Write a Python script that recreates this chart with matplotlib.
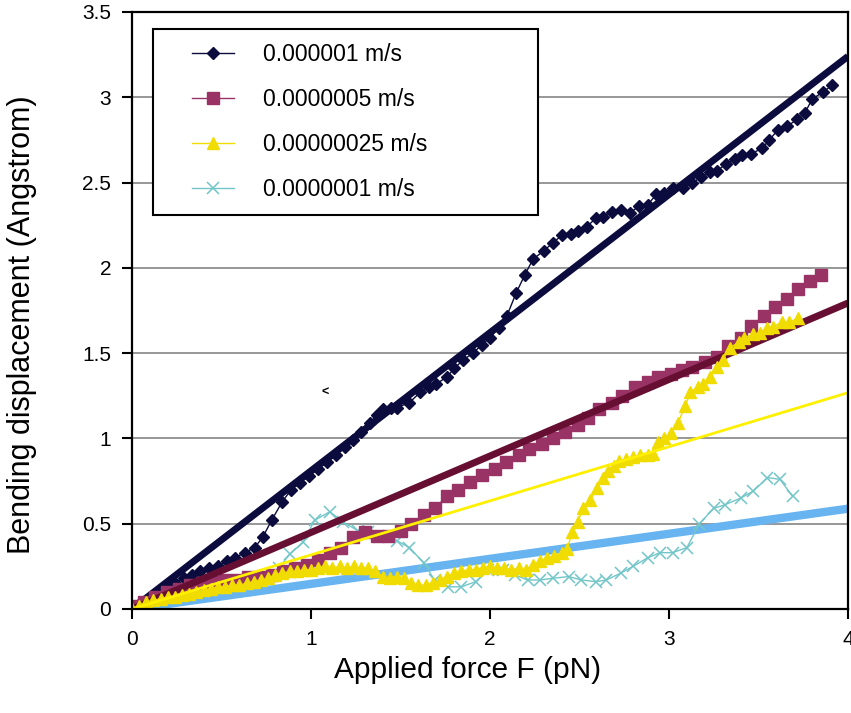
import matplotlib
matplotlib.use("Agg")
import matplotlib.pyplot as plt
import numpy as np
from matplotlib.lines import Line2D
from matplotlib.legend_handler import HandlerLine2D

plt.rcParams["font.family"] = ["Liberation Sans", "DejaVu Sans"]

# series (x in pN, y in Angstrom)
v1_x = [0.00, 0.05, 0.10, 0.15, 0.19, 0.24, 0.29, 0.335, 0.38, 0.43, 0.48, 0.53,
        0.575, 0.63, 0.685, 0.73, 0.78, 0.84, 0.89, 0.94, 0.99, 1.04, 1.09, 1.14,
        1.19, 1.235, 1.28, 1.33, 1.37, 1.40, 1.445, 1.48, 1.55, 1.61, 1.66, 1.70,
        1.76, 1.80, 1.85, 1.905, 1.955, 2.00, 2.05, 2.095, 2.145, 2.195, 2.24, 2.30,
        2.35, 2.40, 2.45, 2.49, 2.54, 2.59, 2.63, 2.68, 2.73, 2.78, 2.83, 2.88,
        2.93, 2.97, 3.02, 3.08, 3.13, 3.18, 3.23, 3.27, 3.32, 3.37, 3.41, 3.46,
        3.52, 3.56, 3.61, 3.66, 3.715, 3.76, 3.80, 3.86, 3.91]
v1_y = [0.01, 0.04, 0.07, 0.10, 0.13, 0.15, 0.18, 0.20, 0.22, 0.24, 0.25, 0.28,
        0.30, 0.33, 0.36, 0.42, 0.52, 0.63, 0.70, 0.74, 0.78, 0.82, 0.86, 0.90,
        0.95, 0.99, 1.04, 1.09, 1.14, 1.17, 1.18, 1.18, 1.21, 1.27, 1.30, 1.32,
        1.36, 1.41, 1.46, 1.50, 1.55, 1.59, 1.65, 1.72, 1.85, 1.96, 2.05, 2.10,
        2.145, 2.19, 2.20, 2.215, 2.24, 2.29, 2.30, 2.33, 2.34, 2.32, 2.36, 2.37,
        2.43, 2.44, 2.47, 2.47, 2.50, 2.53, 2.56, 2.57, 2.61, 2.64, 2.66, 2.67,
        2.70, 2.75, 2.81, 2.83, 2.87, 2.91, 2.99, 3.03, 3.07]

v2_x = [0.00, 0.065, 0.13, 0.195, 0.26, 0.325, 0.39, 0.455, 0.52, 0.585, 0.65,
        0.715, 0.78, 0.845, 0.91, 0.975, 1.04, 1.105, 1.17, 1.235, 1.30, 1.37,
        1.43, 1.50, 1.56, 1.63, 1.69, 1.76, 1.82, 1.89, 1.955, 2.03, 2.09, 2.16,
        2.22, 2.29, 2.35, 2.42, 2.49, 2.55, 2.61, 2.68, 2.74, 2.81, 2.88, 2.94,
        3.01, 3.07, 3.13, 3.20, 3.27, 3.33, 3.40, 3.46, 3.53, 3.59, 3.66, 3.72,
        3.79, 3.85]
v2_y = [0.02, 0.04, 0.07, 0.10, 0.12, 0.14, 0.15, 0.16, 0.17, 0.17, 0.19,
        0.19, 0.20, 0.22, 0.24, 0.26, 0.29, 0.33, 0.36, 0.42, 0.45, 0.43,
        0.43, 0.46, 0.50, 0.55, 0.59, 0.66, 0.70, 0.745, 0.785, 0.82, 0.86, 0.90,
        0.94, 0.97, 1.00, 1.04, 1.08, 1.12, 1.17, 1.21, 1.25, 1.30, 1.33, 1.36,
        1.38, 1.40, 1.42, 1.45, 1.48, 1.54, 1.59, 1.66, 1.72, 1.77, 1.82, 1.875,
        1.92, 1.96]

v3_x = [0.00, 0.04, 0.08, 0.12, 0.16, 0.20, 0.24, 0.28, 0.32, 0.36, 0.40, 0.44,
        0.48, 0.52, 0.56, 0.60, 0.64, 0.68, 0.72, 0.76, 0.80, 0.84, 0.88, 0.92,
        0.96, 1.00, 1.04, 1.08, 1.12, 1.16, 1.20, 1.24, 1.28, 1.32, 1.36, 1.40,
        1.44, 1.48, 1.52, 1.56, 1.60, 1.64, 1.68, 1.72, 1.76, 1.80, 1.84, 1.88,
        1.92, 1.96, 2.00, 2.04, 2.08, 2.12, 2.16, 2.20, 2.24, 2.28, 2.32, 2.36,
        2.40, 2.43, 2.46, 2.49, 2.52, 2.56, 2.60, 2.63, 2.66, 2.69, 2.72, 2.76,
        2.80, 2.84, 2.88, 2.91, 2.94, 2.97, 3.01, 3.05, 3.09, 3.12, 3.16, 3.19,
        3.23, 3.27, 3.30, 3.34, 3.39, 3.42, 3.47, 3.51, 3.55, 3.58, 3.63, 3.67,
        3.72]
v3_y = [0.00, 0.02, 0.04, 0.05, 0.06, 0.07, 0.07, 0.08, 0.09, 0.10, 0.11, 0.12,
        0.13, 0.13, 0.14, 0.14, 0.15, 0.16, 0.17, 0.18, 0.20, 0.21, 0.22, 0.22,
        0.23, 0.23, 0.24, 0.25, 0.24, 0.25, 0.24, 0.25, 0.24, 0.24, 0.22, 0.19,
        0.18, 0.19, 0.18, 0.15, 0.14, 0.14, 0.15, 0.17, 0.19, 0.21, 0.22, 0.23,
        0.23, 0.24, 0.25, 0.24, 0.24, 0.23, 0.24, 0.23, 0.26, 0.28, 0.30, 0.31,
        0.33, 0.35, 0.45, 0.51, 0.59, 0.64, 0.71, 0.77, 0.81, 0.84, 0.87, 0.88,
        0.89, 0.90, 0.90, 0.91, 0.98, 1.00, 1.03, 1.09, 1.19, 1.27, 1.30, 1.32,
        1.36, 1.42, 1.46, 1.53, 1.565, 1.59, 1.61, 1.62, 1.65, 1.655, 1.68, 1.68,
        1.705]

v4_x = [0.00, 0.08, 0.15, 0.23, 0.30, 0.38, 0.45, 0.53, 0.60, 0.68, 0.75, 0.82,
        0.88, 0.955, 1.02, 1.105, 1.18, 1.26, 1.32, 1.385, 1.48, 1.55, 1.63, 1.69,
        1.765, 1.84, 1.92, 1.99, 2.07, 2.14, 2.21, 2.28, 2.35, 2.44, 2.51, 2.59,
        2.65, 2.73, 2.80, 2.88, 2.95, 3.02, 3.10, 3.17, 3.25, 3.31, 3.40, 3.47,
        3.55, 3.62, 3.69]
v4_y = [0.00, 0.03, 0.05, 0.07, 0.08, 0.10, 0.12, 0.13, 0.14, 0.16, 0.19, 0.24,
        0.32, 0.39, 0.52, 0.57, 0.51, 0.46, 0.45, 0.42, 0.40, 0.36, 0.27, 0.17,
        0.13, 0.13, 0.16, 0.23, 0.23, 0.20, 0.17, 0.17, 0.18, 0.19, 0.17, 0.16,
        0.17, 0.21, 0.25, 0.30, 0.33, 0.33, 0.36, 0.50, 0.59, 0.61, 0.65, 0.69,
        0.77, 0.76, 0.66]

labels = ["0.000001 m/s", "0.0000005 m/s", "0.00000025 m/s", "0.0000001 m/s"]
# slopes of the linear fits (Angstrom per pN)
fit_slopes = [0.81, 0.4485, 0.317, 0.147]
fit_x = np.array([0.0, 4.0])

navy = "#0b0b3d"
plum = "#993366"
maroon = "#670f33"
gold = "#f0dc00"
yellow = "#fff000"
teal = "#72c6c8"
sky = "#68b4f0"

fig = plt.figure(figsize=(8.51, 7.13), dpi=100)
ax = fig.add_axes([0.1551, 0.1459, 0.8414, 0.8373])

ax.plot(fit_x, fit_slopes[3] * fit_x, color=sky, lw=6, solid_capstyle="butt", zorder=1.5)

ax.plot(v1_x, v1_y, color=navy, lw=1, marker="D", ms=6.3, mec=navy, mfc=navy,
        label=labels[0], zorder=2.0)
ax.plot(fit_x, fit_slopes[0] * fit_x, color=navy, lw=5, solid_capstyle="butt", zorder=2.1)

ax.plot(v4_x, v4_y, color=teal, lw=1, marker="x", ms=8, mew=1.1,
        label=labels[3], zorder=2.15)

ax.plot(v2_x, v2_y, color=plum, lw=1, marker="s", ms=8.5, mec=plum, mfc=plum,
        label=labels[1], zorder=2.2)
ax.plot(fit_x, fit_slopes[1] * fit_x, color=maroon, lw=5, solid_capstyle="butt", zorder=2.3)

ax.plot(v3_x, v3_y, color=gold, lw=1, marker="^", ms=8, mec=gold, mfc=gold,
        label=labels[2], zorder=2.4)
ax.plot(fit_x, fit_slopes[2] * fit_x, color=yellow, lw=2, solid_capstyle="butt", zorder=2.5)

# stray mark from the original figure
ax.text(1.078, 1.27, "<", fontsize=9, fontweight="bold", ha="center", va="center")

ax.set_xlim(0, 4)
ax.set_ylim(0, 3.5)
ax.set_xticks([0, 1, 2, 3, 4])
ax.set_yticks(np.arange(0, 3.51, 0.5))
ax.yaxis.set_major_formatter(matplotlib.ticker.FormatStrFormatter("%g"))
ax.yaxis.grid(True, color="#858585", lw=1.2)
ax.set_axisbelow(True)
ax.tick_params(direction="out", length=7, width=1.5, labelsize=15, pad=8)
for s in ax.spines.values():
    s.set_linewidth(1.6)

ax.set_xlabel("Applied force F (pN)", fontsize=21.5)
ax.xaxis.set_label_coords(0.469, -0.079)
ax.set_ylabel("Bending displacement (Angstrom)", fontsize=22)
ax.yaxis.set_label_coords(-0.132, 0.476)

hd = {lab: hh for hh, lab in zip(*ax.get_legend_handles_labels())}
leg = ax.legend([hd[t] for t in labels], labels, loc="upper left",
                bbox_to_anchor=(0.0293, 0.6615, 0.5377, 0.31), mode="expand",
                borderaxespad=0, borderpad=0.62, labelspacing=0.96,
                handlelength=2.9, handletextpad=1.3, fontsize=16.5,
                frameon=True, fancybox=False, framealpha=1, edgecolor="black",
                handler_map={Line2D: HandlerLine2D(xpad=1.1)})
leg.get_frame().set_linewidth(1.5)

fig.savefig("out.png", dpi=100)
